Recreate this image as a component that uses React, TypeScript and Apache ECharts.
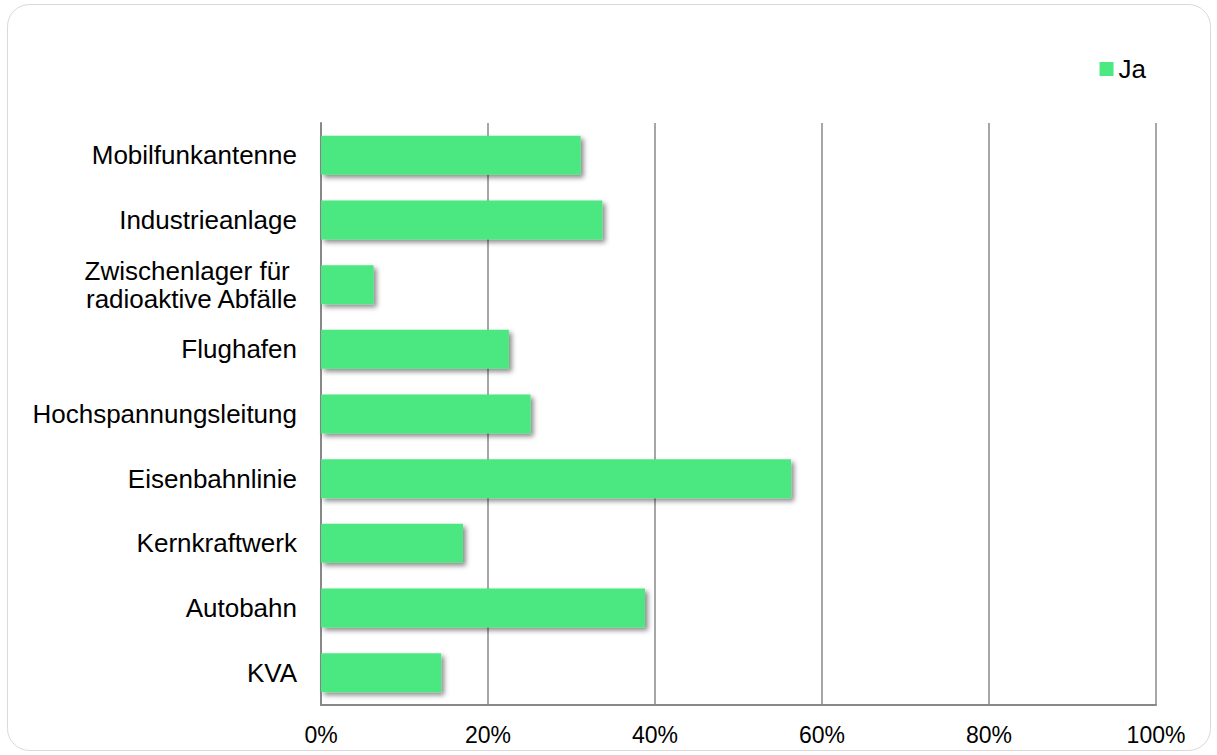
import React, { useEffect, useRef } from "react";
import * as echarts from "echarts";

const categories = [
  "Mobilfunkantenne",
  "Industrieanlage",
  "Zwischenlager für \nradioaktive Abfälle",
  "Flughafen",
  "Hochspannungsleitung",
  "Eisenbahnlinie",
  "Kernkraftwerk",
  "Autobahn",
  "KVA",
];
const jaValues = [31.1, 33.7, 6.3, 22.5, 25.1, 56.3, 17.0, 38.8, 14.4];
const seriesName = "Ja";

const FONT = "Liberation Sans, Arial, sans-serif";

export default function App() {
  const ref = useRef<HTMLDivElement>(null);
  useEffect(() => {
    if (!ref.current) return;
    const chart = echarts.init(ref.current, null, { renderer: "svg" });
    chart.setOption({
      animation: false,
      backgroundColor: "#fff",
      textStyle: { fontFamily: FONT },
      graphic: [
        {
          type: "rect",
          shape: { x: 7.5, y: 4.5, width: 1203, height: 746, r: 22 },
          style: { fill: "none", stroke: "#d9d9d9", lineWidth: 1 },
          silent: true,
          z: -1,
        },
      ],
      legend: {
        data: [seriesName],
        right: 66,
        top: 51,
        itemWidth: 14,
        itemHeight: 14,
        itemGap: 6,
        icon: "rect",
        textStyle: { fontSize: 26, color: "#000", fontFamily: FONT },
      },
      grid: { left: 321, right: 61, top: 123, bottom: 50, containLabel: false },
      xAxis: {
        type: "value",
        min: 0,
        max: 100,
        interval: 20,
        axisLabel: {
          formatter: "{value}%",
          fontSize: 23,
          color: "#000",
          margin: 18,
          fontFamily: FONT,
        },
        axisLine: { show: true, lineStyle: { color: "#888", width: 2 } },
        axisTick: { show: false },
        splitLine: { show: true, lineStyle: { color: "#888", width: 1.5 } },
      },
      yAxis: {
        type: "category",
        data: categories,
        inverse: true,
        axisLabel: {
          fontSize: 26,
          color: "#000",
          margin: 24,
          lineHeight: 28,
          align: "right",
          fontFamily: FONT,
        },
        axisLine: { show: true, lineStyle: { color: "#888", width: 2 } },
        axisTick: { show: false },
        splitLine: { show: false },
      },
      series: [
        {
          name: seriesName,
          type: "bar",
          data: jaValues,
          barWidth: 39,
          itemStyle: {
            color: "#4CE882",
            shadowColor: "rgba(0,0,0,0.45)",
            shadowBlur: 5,
            shadowOffsetX: 3,
            shadowOffsetY: 3,
          },
        },
      ],
    });
    return () => chart.dispose();
  }, []);
  return (
    <div
      ref={ref}
      style={{ position: "fixed", left: 0, top: 0, width: 1217, height: 755 }}
    />
  );
}
